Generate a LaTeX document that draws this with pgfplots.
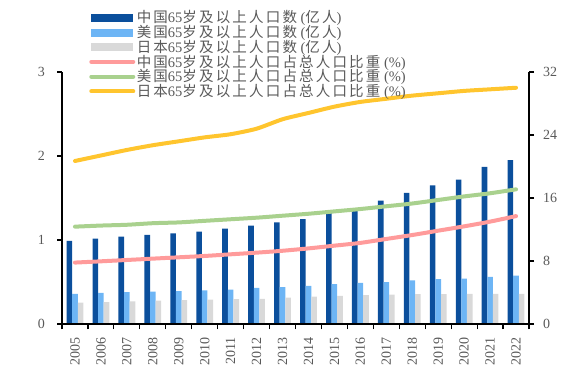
\documentclass[border=0pt]{standalone}
\usepackage{pgfplots}
\pgfplotsset{compat=1.18}
\usepackage{fontspec}
\setmainfont{Liberation Serif}
\newfontfamily\cjk[LetterSpace=15]{Noto Sans CJK SC}
\newcommand\zh[1]{{\cjk #1}}
\definecolor{cn}{HTML}{0B4F9C}
\definecolor{us}{HTML}{6DB5F5}
\definecolor{jp}{HTML}{D9D9D9}
\definecolor{cnl}{HTML}{FF9B9B}
\definecolor{usl}{HTML}{A9D18E}
\definecolor{jpl}{HTML}{FFC52E}
\definecolor{txt}{HTML}{595959}
\pgfplotsset{
  base/.style={
    at={(62bp,53bp)}, anchor=south west,
    width=467bp, height=252bp, scale only axis,
    xmin=-0.5, xmax=17.5,
    tick align=outside,
    axis line style={line width=1.2bp, black},
    tick style={line width=1.2bp, black},
    major tick length=5bp,
    tick label style={font=\fontsize{14bp}{16bp}\selectfont, text=txt},
    /pgf/number format/assume math mode=true,
  }
}
\begin{document}
\begin{tikzpicture}[x=1bp,y=1bp]
\path[use as bounding box] (0,0) rectangle (587,377);
\begin{axis}[base,
  axis y line*=left, axis x line*=bottom,
  ymin=0, ymax=3, ytick={0,1,2,3},
  ybar=0pt, bar width=5.6bp,
  xtick={-0.5,0.5,...,17.5},
  x tick label as interval,
  xticklabels={2005,2006,2007,2008,2009,2010,2011,2012,2013,2014,2015,2016,2017,2018,2019,2020,2021,2022},
  xticklabel style={rotate=90, anchor=east, inner sep=0pt, xshift=-8bp},
  yticklabel style={inner sep=0pt, xshift=-12bp},
]
\addplot[fill=cn, draw=none] coordinates {(0,0.99) (1,1.015) (2,1.04) (3,1.06) (4,1.08) (5,1.10) (6,1.135) (7,1.17) (8,1.21) (9,1.25) (10,1.32) (11,1.36) (12,1.47) (13,1.56) (14,1.65) (15,1.72) (16,1.87) (17,1.95)};
\addplot[fill=us, draw=none] coordinates {(0,0.36) (1,0.37) (2,0.38) (3,0.385) (4,0.39) (5,0.40) (6,0.41) (7,0.43) (8,0.44) (9,0.455) (10,0.475) (11,0.49) (12,0.50) (13,0.52) (14,0.535) (15,0.54) (16,0.56) (17,0.575)};
\addplot[fill=jp, draw=none] coordinates {(0,0.255) (1,0.26) (2,0.27) (3,0.277) (4,0.285) (5,0.29) (6,0.295) (7,0.30) (8,0.315) (9,0.325) (10,0.335) (11,0.345) (12,0.35) (13,0.355) (14,0.357) (15,0.36) (16,0.36) (17,0.36)};
\end{axis}
\begin{axis}[base, clip=false,
  axis y line*=right, axis x line*=bottom,
  xtick={-0.5,0.5,...,17.5}, xticklabels={},
  ymin=0, ymax=32, ytick={0,8,16,24,32},
  yticklabel style={inner sep=0pt, xshift=9bp},
  legend style={draw=none, fill=none, at={(0.058,1.25)}, anchor=north west,
    legend cell align=left, font=\fontsize{14.5bp}{15bp}\selectfont, text=txt,
    row sep=-2bp, inner sep=0pt, nodes={inner sep=1.5bp}},
  legend image code/.code={\draw[#1, line width=4bp] (0bp,0bp) -- (42bp,0bp);},
]
\pgfplotsinvokeforeach{-0.5,0.5,...,17.5}{\draw[black, line width=1.2bp] (axis cs:#1,0) -- ++(0bp,-5bp);}
\addlegendimage{legend image code/.code={\fill[cn] (0bp,-3.5bp) rectangle (41bp,3.5bp);}}
\addlegendentry{\zh{中国}65\zh{岁及以上人口数} (\zh{亿人})}
\addlegendimage{legend image code/.code={\fill[us] (0bp,-3.5bp) rectangle (41bp,3.5bp);}}
\addlegendentry{\zh{美国}65\zh{岁及以上人口数} (\zh{亿人})}
\addlegendimage{legend image code/.code={\fill[jp] (0bp,-3.5bp) rectangle (41bp,3.5bp);}}
\addlegendentry{\zh{日本}65\zh{岁及以上人口数} (\zh{亿人})}
\addplot[cnl, line width=4bp, smooth, tension=0.4, line cap=round] coordinates {(0,7.8) (1,7.96) (2,8.13) (3,8.3) (4,8.47) (5,8.64) (6,8.85) (7,9.06) (8,9.3) (9,9.6) (10,9.95) (11,10.3) (12,10.8) (13,11.3) (14,11.85) (15,12.4) (16,13.0) (17,13.7)};
\addlegendentry{\zh{中国}65\zh{岁及以上人口占总人口比重} (\%)}
\addplot[usl, line width=4bp, smooth, tension=0.4, line cap=round] coordinates {(0,12.36) (1,12.5) (2,12.6) (3,12.8) (4,12.9) (5,13.1) (6,13.3) (7,13.5) (8,13.75) (9,14.0) (10,14.3) (11,14.6) (12,14.95) (13,15.3) (14,15.75) (15,16.2) (16,16.6) (17,17.1)};
\addlegendentry{\zh{美国}65\zh{岁及以上人口占总人口比重} (\%)}
\addplot[jpl, line width=4bp, smooth, tension=0.4, line cap=round] coordinates {(0,20.7) (1,21.4) (2,22.1) (3,22.7) (4,23.2) (5,23.7) (6,24.1) (7,24.8) (8,26.0) (9,26.8) (10,27.6) (11,28.2) (12,28.6) (13,29.0) (14,29.3) (15,29.6) (16,29.8) (17,30.0)};
\addlegendentry{\zh{日本}65\zh{岁及以上人口占总人口比重} (\%)}
\end{axis}
\end{tikzpicture}
\end{document}
